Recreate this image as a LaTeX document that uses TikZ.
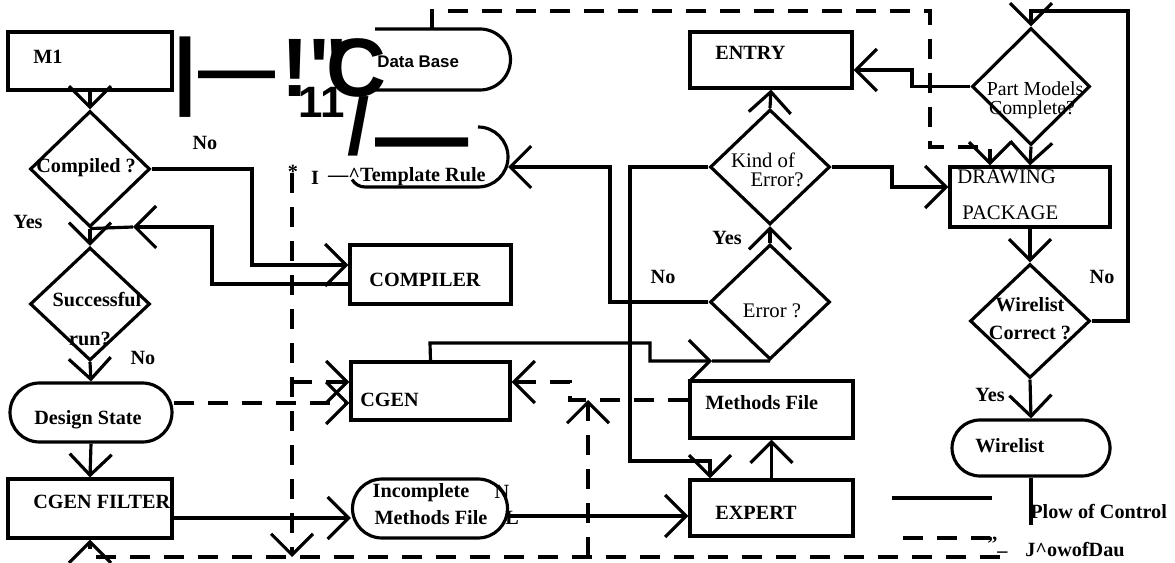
\documentclass[tikz,border=0pt]{standalone}
\usepackage{fontspec}
\setmainfont{Liberation Serif}
\newfontfamily\dbfont{Liberation Sans}
\usetikzlibrary{shapes.geometric,shapes.misc,arrows.meta}

\tikzset{
  >={Straight Barb[length=0.42cm,width=0.84cm]},
  flow/.style={line width=1.8pt},
  data/.style={line width=1.8pt, dash pattern=on 0.4cm off 0.28cm},
  box/.style={draw, line width=1.8pt, minimum width=3.24cm, minimum height=1.16cm, inner sep=0pt},
  decide/.style={draw, diamond, line width=1.8pt, minimum width=2.4cm, minimum height=2.3cm, inner sep=0pt},
  store/.style={draw, rounded rectangle, line width=1.8pt, minimum width=3.2cm, minimum height=1.16cm, inner sep=0pt},
  lbl/.style={font=\bfseries\fontsize{11.5}{12}\selectfont, inner sep=0pt},
  scan/.style={font=\fontsize{11.8}{12}\selectfont, inner sep=0pt},
  glyph/.style={font=\dbfont\bfseries, inner sep=0pt, anchor=base west}
}

\begin{document}
\begin{tikzpicture}[x=0.02cm,y=-0.02cm]
\fill[white] (0,0) rectangle (1175,563);
\useasboundingbox (0,0) rectangle (1175,563);

% left column
\node[box, minimum width=3.28cm] (m1) at (90,61) {};
\node[decide, minimum height=2.32cm] (comp) at (90,169) {};
\node[decide, minimum height=2.26cm] (succ) at (90,304) {};
\node[store, minimum width=3.24cm, minimum height=1.18cm] (dstate) at (91,412.5) {};
\node[box, minimum width=3.28cm, minimum height=1.18cm] (cfilter) at (90,508.5) {};

% middle column
\node[box, minimum width=3.22cm, minimum height=1.18cm] (compiler) at (430.5,274.5) {};
\node[box, minimum width=3.18cm] (cgen) at (430.5,391) {};
\node[store, minimum width=3.1cm, minimum height=1.18cm] (incmf) at (430,508.5) {};

\node[box, minimum height=1.12cm] (entry) at (771,60) {};
\node[decide] (kind) at (770,167) {};
\node[decide] (err) at (770,302) {};
\node[box, minimum width=3.26cm, minimum height=1.14cm] (methf) at (771.5,409.5) {};
\node[box, minimum width=3.26cm, minimum height=1.12cm] (expert) at (771.5,508) {};

% right column
\node[decide, minimum width=2.36cm, minimum height=2.34cm] (parts) at (1031,86.5) {};
\node[box, minimum width=3.2cm, minimum height=1.2cm] (drawp) at (1030,197) {};
\node[decide, minimum height=2.28cm] (wirec) at (1030,321) {};
\node[store, minimum width=3.16cm, minimum height=1.12cm] (wirel) at (1031,448) {};

% Data Base and Template Rule outlines
\draw[flow] (375,29) -- (480,29) arc[start angle=90, end angle=-90, radius=0.61cm] -- (370,90);
\draw[flow] (478,127) arc[start angle=90, end angle=-90, radius=0.6cm] -- (365,187)
  arc[start angle=-90, end angle=-150, radius=0.3cm];

% texts
\node[lbl, anchor=west] at (33,57) {M1};
\node[lbl] at (86,168) {Compiled ?};
\node[lbl] at (205,143) {No};
\node[lbl] at (28,222) {Yes};
\node[lbl] at (97,300) {Successful};
\node[lbl] at (90,339) {run?};
\node[lbl] at (143,358) {No};
\node[lbl] at (88,420) {Design State};
\node[lbl, anchor=west] at (33,502) {CGEN FILTER};

\node[font=\dbfont\bfseries\fontsize{9.6}{10}\selectfont, inner sep=0pt, anchor=west] at (377,62) {Data Base};
\node[lbl] at (293,172) {*};
\node[lbl] at (315,178) {I};
\node[lbl, anchor=east] at (486,177) {—\textasciicircum Template Rule};
\node[lbl] at (425,280) {COMPILER};
\node[lbl, anchor=west] at (360,400) {CGEN};
\node[lbl] at (421,493) {Incomplete};
\node[lbl] at (431,518) {Methods File};
\node[lbl] at (502,492) {N};
\node[lbl] at (512,518) {L};

\node[lbl, anchor=west] at (715,53) {ENTRY};
\node[scan] at (763,160) {Kind of};
\node[scan] at (777,180) {Error?};
\node[lbl] at (727,238) {Yes};
\node[lbl] at (663,277) {No};
\node[scan] at (772,311) {Error ?};
\node[lbl, anchor=west] at (705,403) {Methods File};
\node[lbl, anchor=west] at (715,513) {EXPERT};

\node[scan, font=\fontsize{11.3}{12}\selectfont] at (1035,89) {Part Models};
\node[scan, font=\fontsize{11.3}{12}\selectfont] at (1032,110) {Complete?};
\node[scan, anchor=west] at (957,177) {DRAWING};
\node[scan, anchor=west] at (962,213) {PACKAGE};
\node[lbl] at (1102,277) {No};
\node[lbl] at (1030,305) {Wirelist};
\node[lbl] at (1030,333) {Correct ?};
\node[lbl] at (990,395) {Yes};
\node[lbl, anchor=west] at (975,446) {Wirelist};
\node[lbl, anchor=west] at (1030,511) {Plow of Control};
\node[lbl, anchor=west] at (1025,550) {J\textasciicircum owofDau};
\node[lbl, anchor=west] at (987,545) {"\_};

% heavy glyphs
\node[glyph, font=\dbfont\bfseries\fontsize{48.4}{48}\selectfont] at (173,99) {|};
\node[glyph, font=\dbfont\bfseries\fontsize{43.8}{44}\selectfont] at (198,96) {—};
\node[glyph, font=\dbfont\bfseries\fontsize{47.2}{47}\selectfont] at (281,97) {!"};
\node[glyph, font=\dbfont\bfseries\fontsize{47.2}{47}\selectfont] at (326,97) {C};
\node[glyph, font=\dbfont\bfseries\fontsize{25}{25}\selectfont] at (298,118) {11};
\node[glyph, font=\dbfont\bfseries\fontsize{45.5}{46}\selectfont] at (347,155) {/};
\node[glyph, font=\dbfont\bfseries\fontsize{53}{53}\selectfont] at (375,168) {—};

% flow of control
\draw[flow,->] (m1.south) -- (comp.north);
\draw[flow,->] (comp.east) -- (252,169) -- (252,265) -- (compiler.west |- 0,265);
\coordinate (backtip) at (133,227);
\draw[flow,->] (compiler.west |- 0,284) -- (212,284) -- (212,227) -- (backtip);
\draw[flow] (backtip) -- (comp.south);
\draw[flow,->] (comp.south) -- (succ.north);
\draw[flow,->] (succ.south) -- (dstate.north);
\draw[flow,->] (dstate.south) -- (cfilter.north);
\draw[flow,->] (cfilter.east |- 0,518) -- (incmf.west |- 0,518);
\draw[flow,->] (incmf.east |- 0,516) -- (expert.west |- 0,516);

\coordinate (errtip) at (712,361);
\draw[flow,->] (cgen.north) -- (430,343) -- (650,343) -- (650,361) -- (errtip);
\draw[flow] (errtip) -- (err.south);
\coordinate (tmplend) at (508,167);
\draw[flow,->] (err.west) -- (610,302) -- (610,167) -- (tmplend);
\draw[flow,->] (kind.west) -- (630,167) -- (630,461) -- (710,461) -- (expert.north -| 710,0);
\draw[flow,->] (expert.north) -- (methf.south);
\draw[flow,->] (err.north) -- (kind.south);
\draw[flow,->] (kind.north) -- (entry.south);
\draw[flow,->] (kind.east) -- (892,167) -- (892,187) -- (drawp.west |- 0,187);
\draw[flow,->] (parts.west) -- (912,86.5) -- (912,70) -- (entry.east |- 0,70);
\draw[flow,->] (parts.south) -- (drawp.north);
\draw[flow,->] (drawp.south) -- (wirec.north);
\draw[flow,->] (wirec.east) -- (1128,321) -- (1128,11) -- (1031,11) -- (parts.north);
\draw[flow,->] (wirec.south) -- (wirel.north);
\coordinate (wireend) at (1031,525);
\draw[flow] (wirel.south) -- (wireend);

% flow of data
\coordinate (dbtop) at (432,29);
\draw[data,->] (dbtop) -- (432,11) -- (930,11) -- (930,147) -- (990,147) -- (drawp.north -| 990,0);
\coordinate (startop) at (292,173);
\coordinate (leftdrop) at (292,557);
\draw[data,->] (startop) -- (leftdrop);
\draw[data,->] (292,382) -- (cgen.west |- 0,382);
\draw[data,->] (dstate.east |- 0,403) -- (cgen.west |- 0,403);
\coordinate (bottomend) at (1000,557);
\draw[data,->] (bottomend) -- (90,557) -- (cfilter.south);
\coordinate (uptip) at (588,400);
\draw[data,->] (588,557) -- (uptip);
\draw[data,->] (methf.west |- 0,400) -- (570,400) -- (570,382) -- (cgen.east |- 0,382);

% legend
\coordinate (legA) at (892,498);
\coordinate (legB) at (992,498);
\draw[line width=2.4pt] (legA) -- (legB);
\coordinate (legC) at (903,538);
\coordinate (legD) at (990,538);
\draw[data] (legC) -- (legD);
\end{tikzpicture}
\end{document}
